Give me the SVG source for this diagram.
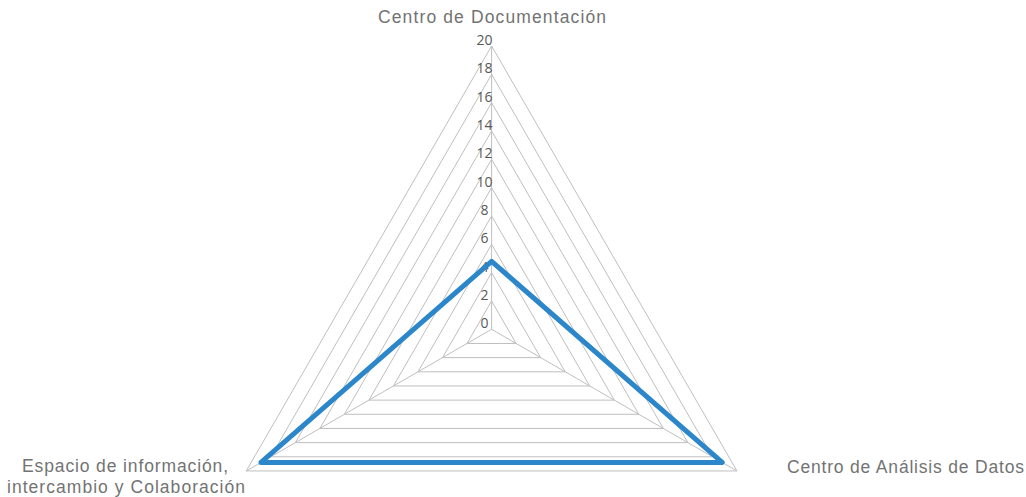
<svg xmlns="http://www.w3.org/2000/svg" width="1026" height="497" viewBox="0 0 1026 497">
<style>
.ring{fill:none;stroke:#bfbfbf;stroke-width:1}
.spoke{stroke:#bfbfbf;stroke-width:1}
.tick{font-family:"Open Sans",Lato,"Liberation Sans",sans-serif;font-size:14px;fill:#595959;text-anchor:middle}
.cat{font-family:"Liberation Sans",Arial,sans-serif;font-size:17.5px;fill:#737373}
.series{fill:none;stroke:#2b87c9;stroke-width:5;stroke-linejoin:round}
</style>
<rect width="1026" height="497" fill="#ffffff"/>
<g id="grid">
<polygon class="ring" points="491.6,300.97 516.13,343.47 467.07,343.47"/>
<polygon class="ring" points="491.6,272.64 540.67,357.63 442.53,357.63"/>
<polygon class="ring" points="491.6,244.31 565.2,371.8 418,371.8"/>
<polygon class="ring" points="491.6,215.98 589.74,385.96 393.46,385.96"/>
<polygon class="ring" points="491.6,187.65 614.27,400.13 368.93,400.13"/>
<polygon class="ring" points="491.6,159.32 638.81,414.29 344.39,414.29"/>
<polygon class="ring" points="491.6,130.99 663.34,428.46 319.86,428.46"/>
<polygon class="ring" points="491.6,102.66 687.87,442.62 295.33,442.62"/>
<polygon class="ring" points="491.6,74.33 712.41,456.79 270.79,456.79"/>
<polygon class="ring" points="491.6,46 736.94,470.95 246.26,470.95"/>
<line class="spoke" x1="491.6" y1="329.3" x2="491.6" y2="46"/>
<line class="spoke" x1="491.6" y1="329.3" x2="736.94" y2="470.95"/>
<line class="spoke" x1="491.6" y1="329.3" x2="246.26" y2="470.95"/>
</g>
<g id="ticks">
<text class="tick" x="484.5" y="45">20</text>
<text class="tick" x="484.5" y="73.3">18</text>
<text class="tick" x="484.5" y="101.6">16</text>
<text class="tick" x="484.5" y="130">14</text>
<text class="tick" x="484.5" y="158.3">12</text>
<text class="tick" x="484.5" y="186.6">10</text>
<text class="tick" x="484.5" y="215">8</text>
<text class="tick" x="484.5" y="243.3">6</text>
<text class="tick" x="484.5" y="271.6">4</text>
<text class="tick" x="484.5" y="300">2</text>
<text class="tick" x="484.5" y="328.3">0</text>
</g>
<g id="series">
<polygon class="series" points="491.6,261.3 722.2,462.45 261,462.45"/>
</g>
<g id="cat-top"><text class="cat" x="492" y="23" text-anchor="middle" textLength="228" lengthAdjust="spacing">Centro de Documentación</text></g>
<g id="cat-right"><text class="cat" x="787" y="473" textLength="237" lengthAdjust="spacing">Centro de Análisis de Datos</text></g>
<g id="cat-left"><text class="cat"><tspan x="22" y="472" textLength="206" lengthAdjust="spacing">Espacio de información,</tspan><tspan x="7" y="493" textLength="238" lengthAdjust="spacing">intercambio y Colaboración</tspan></text></g>
</svg>
